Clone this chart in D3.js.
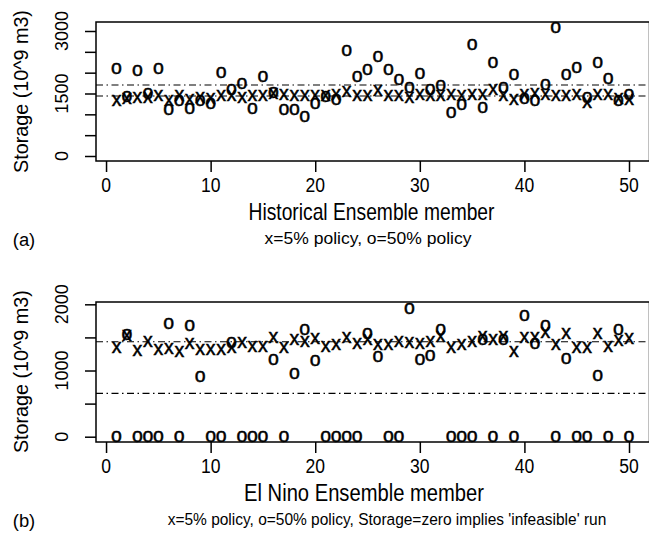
<!DOCTYPE html>
<html><head><meta charset="utf-8">
<script src="https://cdn.jsdelivr.net/npm/d3@7"></script>
<style>body{margin:0;background:#fff}text{font-family:"Liberation Sans",Arial,Helvetica,sans-serif;fill:#000}</style>
</head><body>
<svg id="c" width="649" height="537"></svg>
<script>
// ---------- data ----------
const members = d3.range(1, 51);
const histX5 = [1320,1370,1400,1400,1448,1320,1430,1340,1400,1368,1448,1430,1400,1430,1448,1500,1464,1430,1448,1448,1440,1464,1528,1448,1448,1560,1448,1448,1400,1464,1448,1430,1464,1430,1464,1464,1584,1448,1344,1460,1500,1464,1448,1448,1464,1264,1464,1464,1376,1344];
const histO50 = [2105,1420,2040,1504,2105,1104,1320,1128,1320,1264,2008,1584,1744,1144,1904,1530,1104,1112,944,1264,1420,1344,2520,1904,2064,2384,2064,1824,1640,1968,1584,1688,1048,1224,2664,1160,2240,1640,1960,1380,1320,1704,3080,1944,2120,1400,2240,1848,1320,1464];
const ninoX5 = [1335,1520,1295,1426,1310,1325,1284,1396,1310,1310,1310,1340,1410,1360,1360,1496,1345,1461,1435,1476,1360,1385,1496,1396,1461,1385,1385,1435,1420,1396,1435,1511,1345,1385,1426,1500,1461,1500,1275,1496,1496,1562,1385,1547,1345,1345,1547,1360,1450,1476];
const ninoO50 = [0,1540,0,0,0,1702,0,1672,906,0,0,1426,0,0,0,1158,0,957,1612,1143,0,0,0,0,1562,1208,0,0,1940,1158,1224,1612,0,0,0,1460,0,1470,0,1828,1410,1677,0,1184,0,0,921,0,1622,0];
const histRefLines = [1704, 1440];
const ninoRefLines = [1435, 655];
const xTicks = [0,10,20,30,40,50];
const histYTicks = [0,500,1000,1500,2000,2500,3000];
const histYLabels = [0,1500,3000];
const ninoYTicks = [0,500,1000,1500,2000];
const ninoYLabels = [0,1000,2000];
const yTitle = "Storage (10^9 m3)";

// ---------- drawing ----------
const svg = d3.select("#c");
const X0 = 96, X1 = 649.5;
const x = d3.scaleLinear().domain([-0.96, 51.96]).range([X0, X1]);

function label(g, str, tx, ty, fs, opts) {
  opts = opts || {};
  const t = g.append("text").attr("font-size", fs)
    .attr("text-anchor", opts.anchor || "middle").text(str);
  let sx = opts.sx || 1;
  if (opts.width) sx = opts.width / t.node().getComputedTextLength();
  t.attr("transform", `translate(${tx},${ty})` + (opts.rot ? ` rotate(${opts.rot})` : "") + ` scale(${sx},1)`);
  return t;
}

function panel(cfg) {
  const g = svg.append("g");
  const y = d3.scaleLinear().domain(cfg.yDomain).range([cfg.bottom, cfg.top]);
  // reference lines
  g.selectAll("line.ref").data(cfg.refs).join("line")
    .attr("x1", X0).attr("x2", X1)
    .attr("y1", d => y(d)).attr("y2", d => y(d))
    .attr("stroke", "#000").attr("stroke-width", 1.1)
    .attr("stroke-dasharray", "7,3.5,1.5,3.5");
  // markers
  const fs = 19.5;
  const mk = sel => sel.attr("font-size", fs).attr("text-anchor", "middle")
    .attr("stroke", "#000").attr("stroke-width", 0.5);
  g.selectAll("text.x5").data(members).join("text").call(mk)
    .attr("x", d => x(d)).attr("y", (d, i) => y(cfg.x5[i]) + fs * 0.26)
    .text("x");
  g.selectAll("text.o50").data(members).join("text").call(mk)
    .attr("x", d => x(d)).attr("y", (d, i) => y(cfg.o50[i]) + fs * 0.27)
    .text("o");
  // box
  g.append("rect").attr("x", X0).attr("y", cfg.top)
    .attr("width", X1 - X0).attr("height", cfg.bottom - cfg.top)
    .attr("fill", "none").attr("stroke", "#000").attr("stroke-width", 1.5);
  // axes
  const ax = g.append("g").attr("transform", `translate(0,${cfg.bottom})`)
    .call(d3.axisBottom(x).tickValues(xTicks).tickSize(11).tickFormat(""));
  const ay = g.append("g").attr("transform", `translate(${X0},0)`)
    .call(d3.axisLeft(y).tickValues(cfg.yTicks).tickSize(11).tickFormat(""));
  [ax, ay].forEach(a => {
    a.select(".domain").remove();
    a.selectAll("line").attr("stroke", "#000").attr("stroke-width", 1.5);
  });
  // x tick labels
  xTicks.forEach(v => label(g, String(v), x(v), cfg.bottom + 31, 19.5, {sx: 0.9}));
  // y tick labels (rotated)
  cfg.yLabels.forEach(v => label(g, String(v), 68, y(v), 18, {rot: -90}));
  // y title
  label(g, yTitle, 28, cfg.yTitleY, 20, {rot: -90, width: 163});
  // x title & subtitle
  label(g, cfg.title, cfg.titleX, cfg.bottom + 59, 24, {width: cfg.titleW});
  label(g, cfg.sub, cfg.subX, cfg.bottom + 82.5, 17, {width: cfg.subW});
  label(g, cfg.tag, 24, cfg.bottom + 85, 19, {width: 22.5});
}

panel({
  top: 22, bottom: 161, yDomain: [-120, 3216],
  x5: histX5, o50: histO50, refs: histRefLines,
  yTicks: histYTicks, yLabels: histYLabels, yTitleY: 91.5,
  title: "Historical Ensemble member", titleX: 371.5, titleW: 246,
  sub: "x=5% policy, o=50% policy", subX: 368, subW: 207, tag: "(a)"
});
panel({
  top: 302, bottom: 442, yDomain: [-80, 2035],
  x5: ninoX5, o50: ninoO50, refs: ninoRefLines,
  yTicks: ninoYTicks, yLabels: ninoYLabels, yTitleY: 371.7,
  title: "El Nino Ensemble member", titleX: 364, titleW: 240,
  sub: "x=5% policy, o=50% policy, Storage=zero implies 'infeasible' run", subX: 387, subW: 439, tag: "(b)"
});
</script>
</body></html>
